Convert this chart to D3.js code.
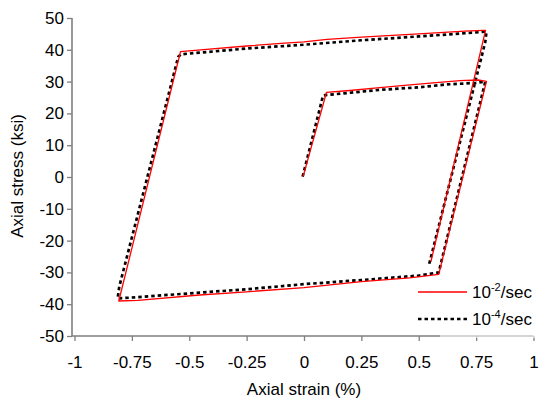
<!DOCTYPE html>
<html>
<head>
<meta charset="utf-8">
<script src="https://cdn.jsdelivr.net/npm/d3@7"></script>
<style>
  body { margin: 0; background: #fff; }
  text { font-family: "Liberation Sans", Arial, sans-serif; fill: #000; }
</style>
</head>
<body>
<svg id="chart" width="544" height="401"></svg>
<script>
// tick values
var xTicks = [-1, -0.75, -0.5, -0.25, 0, 0.25, 0.5, 0.75, 1]
var yTicks = [50, 40, 30, 20, 10, 0, -10, -20, -30, -40, -50]

// 10^-2/sec test, strain (%) / stress (ksi)
var fastStrain = [-0.004, 0.098, 0.2, 0.33, 0.45, 0.55, 0.68, 0.76, 0.795,
  0.587, 0.46, 0.25, 0, -0.25, -0.455, -0.724, -0.807,
  -0.538, -0.45, -0.25, -0.1, 0, 0.1, 0.25, 0.5, 0.7, 0.78, 0.791,
  0.553]
var fastStress = [0.1, 26.6, 27.2, 28.1, 28.9, 29.5, 30.3, 30.5, 30.1,
  -30.6, -31.7, -32.9, -34.8, -36.1, -37.1, -38.8, -39.0,
  39.4, 40.0, 41.2, 42.0, 42.5, 43.3, 44.0, 45.0, 45.9, 46.1, 46.1,
  -26.6]

// 10^-4/sec test
var slowStrain = [-0.006, 0.083, 0.1, 0.33, 0.5, 0.62, 0.75, 0.79,
  0.587, 0.5, 0.25, 0, -0.25, -0.5, -0.75, -0.812,
  -0.805, -0.548, -0.535, -0.25, 0, 0.25, 0.5, 0.7, 0.795,
  0.79, 0.545]
var slowStress = [0.1, 25.6, 25.8, 27.4, 28.2, 29.1, 29.6, 30.0,
  -30.0, -31.0, -32.4, -33.7, -35.3, -36.6, -37.9, -38.2,
  -34.5, 37.8, 38.6, 40.4, 41.6, 43.0, 44.2, 45.2, 45.7,
  42.5, -27.5]

var svg = d3.select('#chart')
var axisColor = '#7f7f7f'

// scales
var x = d3.scaleLinear().domain([-1, 1]).range([74.5, 533.5])
var y = d3.scaleLinear().domain([-50, 50]).range([336, 18])

var fmt = function (d) { return String(d) }

// x axis
var xAxisG = svg.append('g')
  .attr('transform', 'translate(0,336)')
  .call(d3.axisBottom(x).tickValues(xTicks).tickFormat(fmt).tickSize(5).tickPadding(15))
xAxisG.select('.domain').remove()
xAxisG.selectAll('line').attr('stroke', axisColor).attr('stroke-width', 1.3)
xAxisG.selectAll('text').style('font-size', '17px').attr('fill', '#000')

// y axis
var yAxisG = svg.append('g')
  .attr('transform', 'translate(72,0)')
  .call(d3.axisLeft(y).tickValues(yTicks).tickFormat(fmt).tickSize(5).tickPadding(3))
yAxisG.select('.domain').remove()
yAxisG.selectAll('line').attr('stroke', axisColor).attr('stroke-width', 1.3)
yAxisG.selectAll('text').style('font-size', '17px').attr('fill', '#000')

// axis lines
svg.append('line')
  .attr('x1', 72).attr('x2', 72).attr('y1', y(50)).attr('y2', 336)
  .attr('stroke', axisColor).attr('stroke-width', 1.6)
svg.append('line')
  .attr('x1', 72).attr('x2', x(1)).attr('y1', 336).attr('y2', 336)
  .attr('stroke', axisColor).attr('stroke-width', 1.6)

// curves
var lineGen = d3.line()
  .x(function (d) { return x(d[0]) })
  .y(function (d) { return y(d[1]) })

var slowData = d3.zip(slowStrain, slowStress)
var fastData = d3.zip(fastStrain, fastStress)

svg.append('path')
  .attr('d', lineGen(slowData))
  .attr('fill', 'none')
  .attr('stroke', '#000')
  .attr('stroke-width', 2.7)
  .attr('stroke-dasharray', '3.5,3')

svg.append('path')
  .attr('d', lineGen(fastData))
  .attr('fill', 'none')
  .attr('stroke', '#ff0000')
  .attr('stroke-width', 1.3)
  .attr('stroke-linejoin', 'round')

// legend box partly washes out the axis line
svg.append('rect')
  .attr('x', 440).attr('y', 280).attr('width', 104).attr('height', 58)
  .attr('fill', '#fff').attr('opacity', 0.55)

var legend = svg.append('g')
var items = [
  { exp: '-2', color: '#ff0000', width: 1.3, dash: null, y: 292 },
  { exp: '-4', color: '#000', width: 2.7, dash: '3.5,3', y: 319 }
]
items.forEach(function (it) {
  legend.append('line')
    .attr('x1', 418).attr('x2', 467).attr('y1', it.y).attr('y2', it.y)
    .attr('stroke', it.color).attr('stroke-width', it.width)
    .attr('stroke-dasharray', it.dash)
  var t = legend.append('text')
    .attr('x', 472).attr('y', it.y + 6)
    .style('font-size', '17px')
  t.append('tspan').text('10')
  t.append('tspan').attr('dy', -7).style('font-size', '11px').text(it.exp)
  t.append('tspan').attr('dy', 7).text('/sec')
})

// axis titles
svg.append('text')
  .attr('x', 304).attr('y', 395)
  .attr('text-anchor', 'middle')
  .style('font-size', '17px')
  .text('Axial strain (%)')

svg.append('text')
  .attr('transform', 'translate(23,176) rotate(-90)')
  .attr('text-anchor', 'middle')
  .style('font-size', '17px')
  .text('Axial stress (ksi)')
</script>
</body>
</html>
